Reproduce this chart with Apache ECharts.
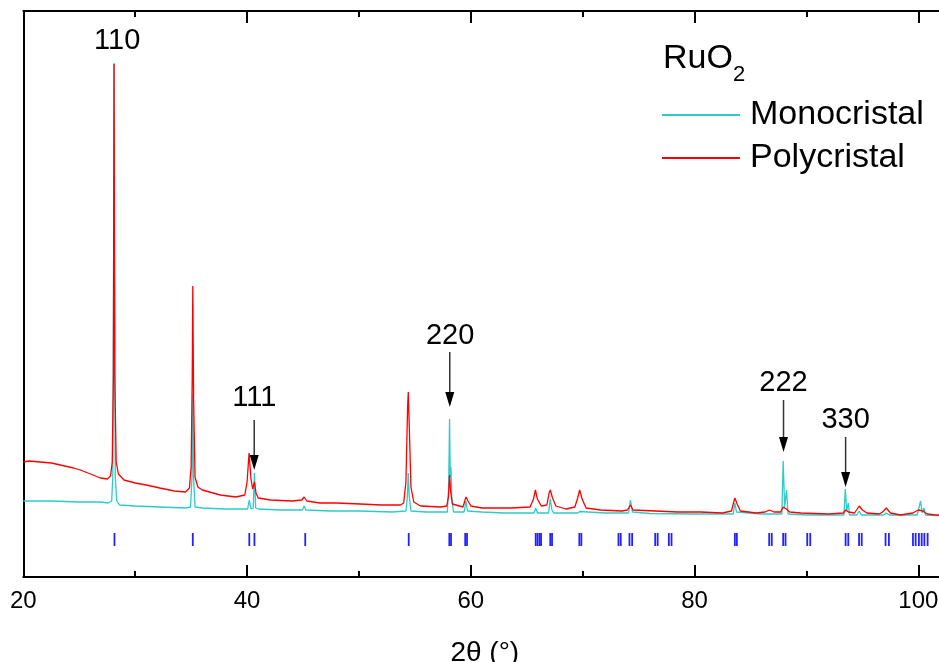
<!DOCTYPE html>
<html>
<head>
<meta charset="utf-8">
<script src="https://cdn.jsdelivr.net/npm/echarts@6/dist/echarts.min.js"></script>
<style>html,body{margin:0;padding:0;background:#fff;overflow:hidden;}#c{width:939px;height:662px;}</style>
</head>
<body>
<div id="c"></div>
<script>
// ---- data (intensity in arbitrary units) ----
const polyTheta = [20.0,20.5,21.5,22.5,23.3,24.5,25.1,26.0,26.9,27.5,
  27.8,27.95,28.05,28.11,28.18,28.3,28.5,29.0,30.0,31.0,32.2,33.5,34.5,
  34.85,35.0,35.1,35.15,35.22,35.35,35.6,36.0,37.6,39.0,
  39.8,40.0,40.18,40.35,40.5,40.66,40.8,41.0,42.1,44.0,
  44.9,45.1,45.35,46.5,48.0,50.1,52.0,53.7,
  54.0,54.2,54.35,54.41,54.5,54.65,54.9,55.5,57.3,
  57.85,58.0,58.1,58.2,58.35,59.3,59.57,59.75,60.0,61.0,63.6,
  65.3,65.6,65.77,65.95,66.3,66.8,67.0,67.1,67.3,67.6,68.5,
  69.3,69.55,69.73,69.95,70.3,71.6,73.5,74.0,74.27,74.5,76.5,78.5,80.5,82.5,
  83.3,83.5,83.6,83.8,84.1,85.5,86.3,86.7,87.1,87.7,87.92,88.2,88.5,89.5,92.0,
  93.3,93.5,93.75,94.3,94.72,95.0,95.4,96.5,96.8,97.14,97.5,98.4,
  99.5,100.0,100.4,100.8,101.5,102.5];
const polyInt = [115,116,115,114,112,109,107,103,99,98,
  101,115,200,513,200,115,103,97,94,92,89,86,85,
  89,110,200,291,180,100,90,87,82,80,
  82,95,124,98,88,95,84,79,77,76,
  77,80,76,74,74,73,72,72,
  74,95,170,185,150,90,75,71,70,
  71,80,102,85,73,70,80,76,71,69,69,
  70,78,87,78,71,72,84,87,79,71,68,
  70,79,87,78,69,67,66,67,72,67,66,65,65,64,
  66,75,79,73,66,64,65,67,65,65,70,68,65,64,63,
  64,67,65,64,71,67,64,63,65,69,64,62,
  64,67,66,63,62,62];

const monoTheta = [20.0,22.5,25.0,25.3,25.4,25.5,26.9,27.6,
  27.9,28.0,28.07,28.11,28.15,28.22,28.35,28.6,30.0,32.2,34.5,
  34.95,35.08,35.15,35.22,35.35,36.0,38.0,
  40.05,40.2,40.35,40.55,40.66,40.77,41.0,43.0,
  44.95,45.1,45.25,47.5,50.0,53.0,
  54.2,54.33,54.41,54.5,54.65,56.0,
  57.9,58.02,58.1,58.16,58.22,58.3,58.45,59.4,59.57,59.7,61.0,63.0,
  65.65,65.8,65.95,66.95,67.1,67.25,67.4,69.55,69.73,69.9,72.0,
  74.1,74.27,74.45,76.0,80.0,83.45,83.6,83.75,83.9,86.0,
  87.8,87.92,88.05,88.22,88.35,90.0,
  93.35,93.47,93.6,93.74,93.85,94.5,94.72,94.9,96.9,97.14,97.4,
  99.9,100.2,100.35,100.5,100.65,102.5];
const monoInt = [76,76,75,75,77,75,75,74,
  76,100,300,514,300,100,76,72,71,70,69,
  70,100,182,100,70,69,68,
  68,77,68,69,104,69,68,67,
  67,71,67,66,66,65,
  66,80,104,80,66,65,
  65,90,158,100,110,80,65,65,76,66,65,64,
  64,69,64,64,78,67,64,64,65.5,64,64,
  64,77,65,63.5,63,63,74,65,63,63,
  63,116,70,87,63,62,
  62,88,66,74,62,62,66,62,62,64,62,
  62,76,64,69,62,61];

// reference reflection positions (2θ)
const refTicks = [28.15,35.15,40.2,40.66,45.2,54.45,58.08,58.23,59.5,59.66,
  65.8,65.97,66.15,66.28,67.1,67.26,69.7,69.88,73.2,73.4,74.18,74.42,
  76.48,76.7,77.7,77.94,83.6,83.78,86.67,86.9,87.92,88.13,90.07,90.34,
  93.5,93.74,94.7,94.94,97.07,97.37,99.52,99.76,100.05,100.3,100.54,100.83];

// hkl annotations
const annotNames = ['110','111','220','222','330'];
const annotTheta = [28.39,40.64,58.15,87.95,93.5];
const annotLabelY = [536,179,241,194,157];
// arrows: 2θ, top and tip intensity
const arrowTheta = [40.64,58.12,87.95,93.5];
const arrowTopY = [157,225,177,140];
const arrowTipY = [107,170,125,90];

const xTicks = {min:20, max:102.5, interval:20};
const seriesNames = ['Monocristal','Polycristal'];

// ---- chart ----
const FONT = 'Liberation Sans, Arial, sans-serif';
const zip = (a,b) => a.map((v,i)=>[v,b[i]]);
const chart = echarts.init(document.getElementById('c'), null, {renderer:'canvas'});

const axisCommon = {
  type:'value', min:xTicks.min, max:xTicks.max, interval:xTicks.interval,
  axisLine:{show:true, lineStyle:{color:'#000', width:2}},
  axisTick:{show:true, inside:true, length:12, lineStyle:{color:'#000', width:2}},
  minorTick:{show:true, splitNumber:2, length:6, lineStyle:{color:'#000', width:2}},
  splitLine:{show:false}
};

chart.setOption({
  animation:false,
  backgroundColor:'#fff',
  textStyle:{fontFamily:FONT},
  grid:{left:23.3, top:11, width:923, bottom:85, containLabel:false, outerBoundsMode:'none'},
  xAxis:[
    Object.assign({}, axisCommon, {
      position:'bottom',
      name:'2\u03b8 (\u00b0)', nameLocation:'middle', nameGap:62,
      nameTextStyle:{fontSize:28, color:'#000', fontFamily:FONT},
      axisLabel:{show:true, fontSize:24, color:'#000', margin:12, fontFamily:FONT, showMaxLabel:false}
    }),
    Object.assign({}, axisCommon, {
      position:'top', axisLabel:{show:false}
    })
  ],
  yAxis:{type:'value', min:0, max:566,
    axisLine:{show:true, lineStyle:{color:'#000', width:2}},
    axisTick:{show:false}, axisLabel:{show:false}, splitLine:{show:false}},
  legend:{
    data:seriesNames, orient:'vertical', left:662, top:98, padding:0,
    itemWidth:78, itemHeight:2, itemGap:9, icon:'rect',
    textStyle:{fontSize:34, color:'#000', fontFamily:FONT, padding:[0,0,0,5]}
  },
  graphic:[
    {type:'text', left:663, top:42, style:{text:'RuO', fill:'#000', font:'34px '+FONT}},
    {type:'text', left:733, top:64, style:{text:'2', fill:'#000', font:'22px '+FONT}}
  ],
  series:[
    {name:seriesNames[0], type:'line', data:zip(monoTheta,monoInt), showSymbol:false, symbol:'none',
     lineStyle:{color:'#2fcaca', width:1.3}, itemStyle:{color:'#2fcaca'}, z:2},
    {name:seriesNames[1], type:'line', data:zip(polyTheta,polyInt), showSymbol:false, symbol:'none',
     lineStyle:{color:'#ff0000', width:1.3}, itemStyle:{color:'#ff0000'}, z:3},
    {name:'ref', type:'custom', data:refTicks.map(t=>[t]), z:4, silent:true,
     renderItem:function(params, api){
       const top = api.coord([api.value(0), 44]);
       const bot = api.coord([api.value(0), 31]);
       return {type:'rect', shape:{x:top[0]-0.9, y:top[1], width:1.8, height:bot[1]-top[1]}, style:{fill:'#2222ff'}};
     }},
    {name:'labels', type:'custom', z:6, silent:true,
     data:annotTheta.map((t,i)=>[t, annotLabelY[i], i]),
     renderItem:function(params, api){
       const p = api.coord([api.value(0), api.value(1)]);
       return {type:'text', x:p[0], y:p[1],
         style:{text:annotNames[api.value(2)], fill:'#000', font:'29px '+FONT, align:'center', verticalAlign:'middle'}};
     }},
    {name:'arrows', type:'custom', z:6, silent:true,
     data:arrowTheta.map((t,i)=>[t, arrowTopY[i], arrowTipY[i]]),
     renderItem:function(params, api){
       const a = api.coord([api.value(0), api.value(1)]);
       const b = api.coord([api.value(0), api.value(2)]);
       const head = 15, hw = 4.5;
       return {type:'group', children:[
         {type:'line', shape:{x1:a[0], y1:a[1], x2:b[0], y2:b[1]-head+2}, style:{stroke:'#333', lineWidth:1.5}},
         {type:'polygon', shape:{points:[[b[0]-hw,b[1]-head],[b[0]+hw,b[1]-head],[b[0],b[1]]]}, style:{fill:'#000'}}
       ]};
     }}
  ]
});
</script>
</body>
</html>
